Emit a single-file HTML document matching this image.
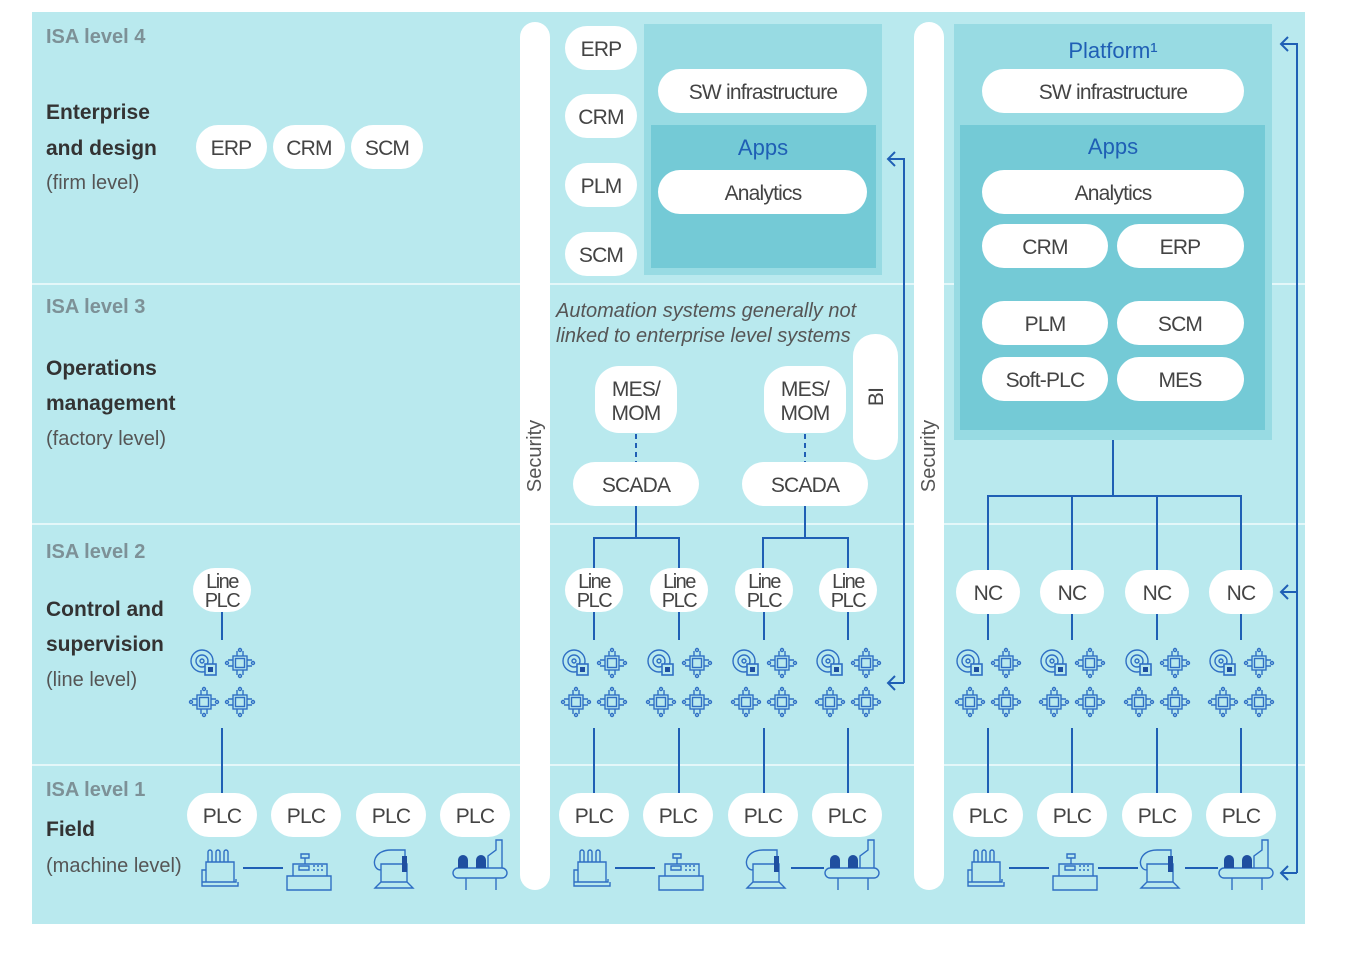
<!DOCTYPE html>
<html><head><meta charset="utf-8"><style>
html,body{margin:0;padding:0;background:#fff;}
svg{display:block;font-family:"Liberation Sans",sans-serif;}
.p{fill:#fff;}
.t{fill:#444;font-size:21px;text-anchor:middle;letter-spacing:-0.8px;}
.lv{fill:#7d9197;font-size:20px;font-weight:bold;}
.h{fill:#333;font-size:21px;font-weight:bold;}
.s{fill:#555;font-size:20px;}
.b{fill:#1f5fb5;font-size:22px;text-anchor:middle;}
.ln{stroke:#1f5fb5;stroke-width:2;fill:none;}
.ic{stroke:#2f6fc4;stroke-width:1.4;fill:none;}
</style></head><body>
<svg width="1370" height="958" viewBox="0 0 1370 958">
<defs>
<g id="chip" class="ic"><rect x="-7" y="-7" width="14" height="14"/><rect x="-4.5" y="-4.5" width="9" height="9"/>
<path d="M-3-7v-5M3-7v-5M-3 7v5M3 7v5M-7-3h-5M-7 3h-5M7-3h5M7 3h5"/><circle cx="0" cy="-13" r="1.5"/><circle cx="13" cy="0" r="1.5"/><circle cx="0" cy="13" r="1.5"/><circle cx="-13" cy="0" r="1.5"/></g>
<g id="disc"><g class="ic"><circle cx="-2" cy="-2" r="11"/><circle cx="-2" cy="-2" r="6"/><circle cx="-2" cy="-2" r="2"/></g><rect x="1" y="1" width="11" height="11" fill="#b9e9ee" stroke="#2f6fc4" stroke-width="1.6"/><rect x="4" y="4" width="5" height="5" fill="#1f4fa0"/></g>
<g id="cl"><use href="#disc" x="-18" y="663"/><use href="#chip" x="18" y="663"/><use href="#chip" x="-18" y="702"/><use href="#chip" x="18" y="702"/></g>
<g id="m1" class="ic"><path d="M-14 0h28v20h-28zM-18 20h34v-3M-18 20v4h36v-4M-12 0v-10a2 2 0 0 1 4 0v10M-4 0v-10a2 2 0 0 1 4 0v10M4 0v-10a2 2 0 0 1 4 0v10M-18 20v-12h4"/></g>
<g id="m2" class="ic"><path d="M-22 10h44v14h-44zM-16 10v-12h34v12M-10 4h10v-4h-10zM-4-2v-6M-8-12h8v4h-8z"/><path d="M4 0h2M8 0h2M12 0h2M4 4h2M8 4h2M12 4h2"/></g>
<g id="m3" class="ic"><path d="M-14 0h26v18h-26zM-20 24l6-6h26l6 6zM-14 6c-10 0-10-20 10-20h14v8"/><rect x="7" y="-8" width="5" height="16" fill="#1f4fa0" stroke="none"/></g>
<g id="m4"><g class="ic"><path d="M-22 12h44a5 5 0 0 1 0 10h-44a5 5 0 0 1 0-10zM-14 22v12M16 22v12M8 12v-12l8-6v-10h6v28"/></g><path d="M-22 12v-8a5 5 0 0 1 10 0v8zM-4 12v-8a5 5 0 0 1 10 0v8z" fill="#1f4fa0"/></g>
<g id="lp"><rect x="-29" y="568" width="58" height="44" rx="22" class="p"/><text x="0" y="588" class="t" style="font-size:20px;letter-spacing:-1.5px">Line</text><text x="0" y="607" class="t" style="font-size:20px;letter-spacing:-1.5px">PLC</text>
<path class="ln" d="M0 612v28M0 728v65"/><use href="#cl"/></g>
<g id="nc"><rect x="-32" y="570" width="64" height="44" rx="22" class="p"/><text x="0" y="600" class="t">NC</text>
<path class="ln" d="M0 614v26M0 728v65"/><use href="#cl"/></g>
<g id="plc"><rect x="-35" y="793" width="70" height="44" rx="22" class="p"/><text x="0" y="823" class="t">PLC</text></g>
</defs>
<rect x="32" y="12" width="1273" height="912" fill="#b9e9ee"/>
<g stroke="#e4f7f9" stroke-width="2"><line x1="32" y1="284" x2="1305" y2="284"/><line x1="32" y1="524" x2="1305" y2="524"/><line x1="32" y1="765" x2="1305" y2="765"/></g>
<rect x="520" y="22" width="30" height="868" rx="15" class="p"/>
<rect x="914" y="22" width="30" height="868" rx="15" class="p"/>
<text transform="translate(541,456) rotate(-90)" class="s" text-anchor="middle">Security</text>
<text transform="translate(935,456) rotate(-90)" class="s" text-anchor="middle">Security</text>

<text x="46" y="43" class="lv">ISA level 4</text>
<text x="46" y="119" class="h">Enterprise</text><text x="46" y="155" class="h">and design</text><text x="46" y="189" class="s">(firm level)</text>
<text x="46" y="313" class="lv">ISA level 3</text>
<text x="46" y="375" class="h">Operations</text><text x="46" y="410" class="h">management</text><text x="46" y="445" class="s">(factory level)</text>
<text x="46" y="558" class="lv">ISA level 2</text>
<text x="46" y="616" class="h">Control and</text><text x="46" y="651" class="h">supervision</text><text x="46" y="686" class="s">(line level)</text>
<text x="46" y="796" class="lv">ISA level 1</text>
<text x="46" y="836" class="h">Field</text><text x="46" y="872" class="s">(machine level)</text>

<rect x="196" y="125" width="71" height="44" rx="22" class="p"/><text x="231" y="155" class="t">ERP</text>
<rect x="273" y="125" width="72" height="44" rx="22" class="p"/><text x="309" y="155" class="t">CRM</text>
<rect x="351" y="125" width="72" height="44" rx="22" class="p"/><text x="387" y="155" class="t">SCM</text>

<rect x="644" y="24" width="238" height="251" fill="#98dbe3"/>
<rect x="651" y="125" width="225" height="143" fill="#74cad6"/>
<rect x="565" y="26" width="72" height="44" rx="22" class="p"/><text x="601" y="56" class="t">ERP</text>
<rect x="565" y="94" width="72" height="44" rx="22" class="p"/><text x="601" y="124" class="t">CRM</text>
<rect x="565" y="163" width="72" height="44" rx="22" class="p"/><text x="601" y="193" class="t">PLM</text>
<rect x="565" y="232" width="72" height="44" rx="22" class="p"/><text x="601" y="262" class="t">SCM</text>
<rect x="658" y="69" width="209" height="44" rx="22" class="p"/><text x="763" y="99" class="t">SW infrastructure</text>
<text x="763" y="155" class="b">Apps</text>
<rect x="658" y="170" width="209" height="44" rx="22" class="p"/><text x="763" y="200" class="t">Analytics</text>

<rect x="954" y="24" width="318" height="416" fill="#98dbe3"/>
<rect x="960" y="125" width="305" height="305" fill="#74cad6"/>
<text x="1113" y="58" class="b">Platform¹</text>
<rect x="982" y="69" width="262" height="44" rx="22" class="p"/><text x="1113" y="99" class="t">SW infrastructure</text>
<text x="1113" y="154" class="b">Apps</text>
<rect x="982" y="170" width="262" height="44" rx="22" class="p"/><text x="1113" y="200" class="t">Analytics</text>
<rect x="982" y="224" width="126" height="44" rx="22" class="p"/><text x="1045" y="254" class="t">CRM</text>
<rect x="1117" y="224" width="127" height="44" rx="22" class="p"/><text x="1180" y="254" class="t">ERP</text>
<rect x="982" y="301" width="126" height="44" rx="22" class="p"/><text x="1045" y="331" class="t">PLM</text>
<rect x="1117" y="301" width="127" height="44" rx="22" class="p"/><text x="1180" y="331" class="t">SCM</text>
<rect x="982" y="357" width="126" height="44" rx="22" class="p"/><text x="1045" y="387" class="t">Soft-PLC</text>
<rect x="1117" y="357" width="127" height="44" rx="22" class="p"/><text x="1180" y="387" class="t">MES</text>

<text x="556" y="317" class="s" font-style="italic">Automation systems generally not</text>
<text x="556" y="342" class="s" font-style="italic">linked to enterprise level systems</text>
<rect x="853" y="334" width="45" height="126" rx="22" class="p"/>
<text transform="translate(883,397) rotate(-90)" class="t">BI</text>
<g id="mes1">
<rect x="595" y="366" width="82" height="67" rx="24" class="p"/><text x="636" y="396" class="t">MES/</text><text x="636" y="420" class="t">MOM</text>
<line x1="636" y1="434" x2="636" y2="462" stroke="#1f5fb5" stroke-width="2" stroke-dasharray="5,4"/>
<rect x="573" y="462" width="126" height="44" rx="22" class="p"/><text x="636" y="492" class="t">SCADA</text>
<path class="ln" d="M636 506v32M594 568v-30h85v30"/>
</g>
<use href="#mes1" x="169"/>

<use href="#lp" x="222"/><use href="#lp" x="594"/><use href="#lp" x="679"/><use href="#lp" x="764"/><use href="#lp" x="848"/>

<path class="ln" d="M1113 440v56M988 570v-74h253v74M1072 496v74M1157 496v74"/>
<use href="#nc" x="988"/><use href="#nc" x="1072"/><use href="#nc" x="1157"/><use href="#nc" x="1241"/>

<use href="#plc" x="222"/><use href="#plc" x="306"/><use href="#plc" x="391"/><use href="#plc" x="475"/>
<use href="#plc" x="594"/><use href="#plc" x="678"/><use href="#plc" x="763"/><use href="#plc" x="847"/>
<use href="#plc" x="988"/><use href="#plc" x="1072"/><use href="#plc" x="1157"/><use href="#plc" x="1241"/>

<use href="#m1" x="220" y="862"/><use href="#m2" x="309" y="866"/><use href="#m3" x="395" y="864"/><use href="#m4" x="480" y="856"/>
<path class="ln" d="M243 868h40"/>
<use href="#m1" x="592" y="862"/><use href="#m2" x="681" y="866"/><use href="#m3" x="767" y="864"/><use href="#m4" x="852" y="856"/>
<path class="ln" d="M615 868h40M791 868h33"/>
<use href="#m1" x="986" y="862"/><use href="#m2" x="1075" y="866"/><use href="#m3" x="1161" y="864"/><use href="#m4" x="1246" y="856"/>
<path class="ln" d="M1009 868h40M1098 868h40M1185 868h33"/>

<path class="ln" d="M904 683V159H888M895 152l-7 7 7 7M904 683H888M895 676l-7 7 7 7" stroke-width="1.8"/>
<path class="ln" d="M1297 873V44h-16M1288 37l-7 7 7 7M1297 592h-16M1288 585l-7 7 7 7M1297 873h-16M1288 866l-7 7 7 7" stroke-width="1.8"/>
</svg>
</body></html>
